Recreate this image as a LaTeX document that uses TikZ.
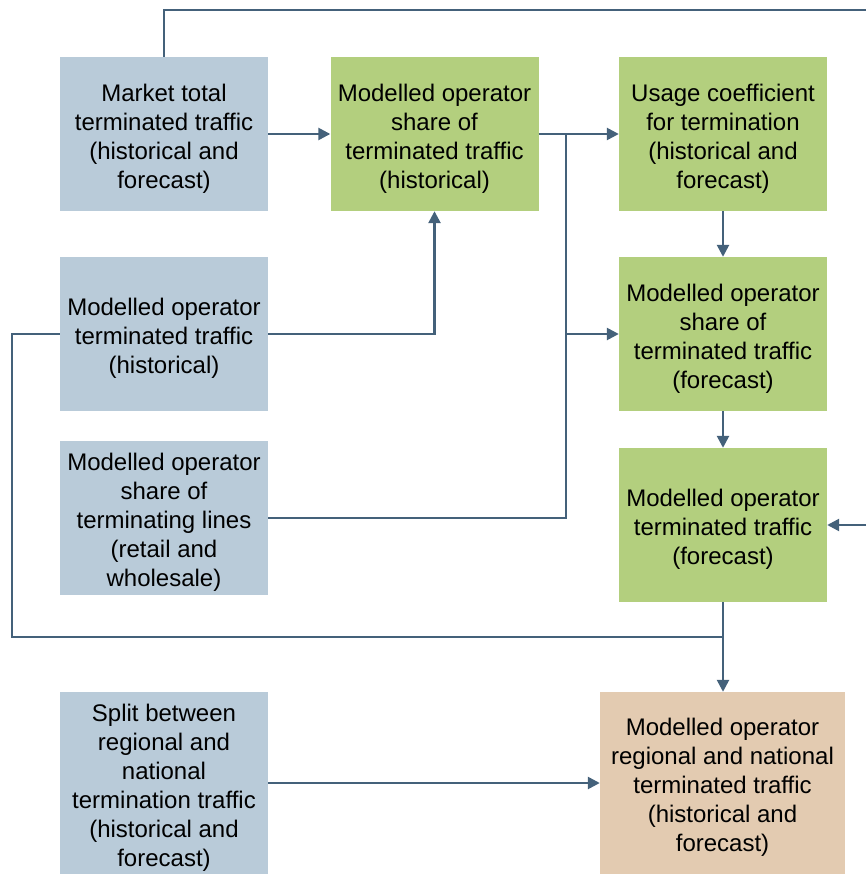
\documentclass[tikz,border=0pt]{standalone}
\usepackage{fontspec}
\setmainfont{Liberation Sans}
\usetikzlibrary{arrows.meta}
\definecolor{inputfill}{HTML}{B9CBD9}
\definecolor{calcfill}{HTML}{B3CF7E}
\definecolor{outfill}{HTML}{E3CBB1}
\definecolor{linkc}{HTML}{44617A}
\begin{document}
\begin{tikzpicture}[x=1pt,y=-1pt,
  box/.style={rectangle, minimum width=208pt, minimum height=154pt, inner sep=0pt},
  txt/.style={align=center, inner sep=0pt, yshift=-4.5pt, font=\fontsize{24}{29}\selectfont},
  inputbox/.style={box, fill=inputfill},
  calcbox/.style={box, fill=calcfill},
  outbox/.style={box, fill=outfill},
  link/.style={draw=linkc, line width=2.5pt},
  arr/.style={link, -{Triangle[length=12pt,width=12pt]}}]
\path[use as bounding box] (0,0) rectangle (866,874);

% boxes, each with its text centred as a label
\node[inputbox, label={[txt]center:{Market total\\terminated traffic\\(historical and\\forecast)}}] (A) at (164,134) {};
\node[calcbox, label={[txt]center:{Modelled operator\\share of\\terminated traffic\\(historical)}}] (B) at (434.5,134) {};
\node[calcbox, label={[txt]center:{Usage coefficient\\for termination\\(historical and\\forecast)}}] (C) at (723,134) {};
\node[inputbox, label={[txt]center:{Modelled operator\\terminated traffic\\(historical)}}] (D) at (164,334) {};
\node[calcbox, label={[txt]center:{Modelled operator\\share of\\terminated traffic\\(forecast)}}] (E) at (723,334) {};
\node[inputbox, label={[txt]center:{Modelled operator\\share of\\terminating lines\\(retail and\\wholesale)}}] (F) at (164,518) {};
\node[calcbox, label={[txt]center:{Modelled operator\\terminated traffic\\(forecast)}}] (G) at (723,525) {};
\node[inputbox, minimum height=182pt, label={[txt]center:{Split between\\regional and\\national\\termination traffic\\(historical and\\forecast)}}] (H) at (164,783) {};
\node[outbox, minimum width=245pt, minimum height=182pt, label={[txt]center:{Modelled operator\\regional and national\\terminated traffic\\(historical and\\forecast)}}] (I) at (722.5,783) {};

% connector coordinates
\coordinate (topR) at (866,10);
\coordinate (rightIn) at (866,525);
\coordinate (split) at (566,134);
\coordinate (loopL) at (12,637);

% connectors
\draw[link] (A.north) |- (topR);
\draw[arr] (rightIn) -- (G.east);
\draw[arr] (A) -- (B);
\draw[arr] (B) -- (C);
\draw[link] (F.east) -| (split);
\draw[arr] (split |- E) -- (E.west);
\draw[arr] (D.east) -| (B.south);
\draw[arr] (C) -- (E);
\draw[arr] (E) -- (G);
\draw[link] (D.west) -| (loopL) -- (loopL -| G.south);
\draw[arr] (G.south) -- (G.south |- I.north);
\draw[arr] (H) -- (I);
\end{tikzpicture}
\end{document}
